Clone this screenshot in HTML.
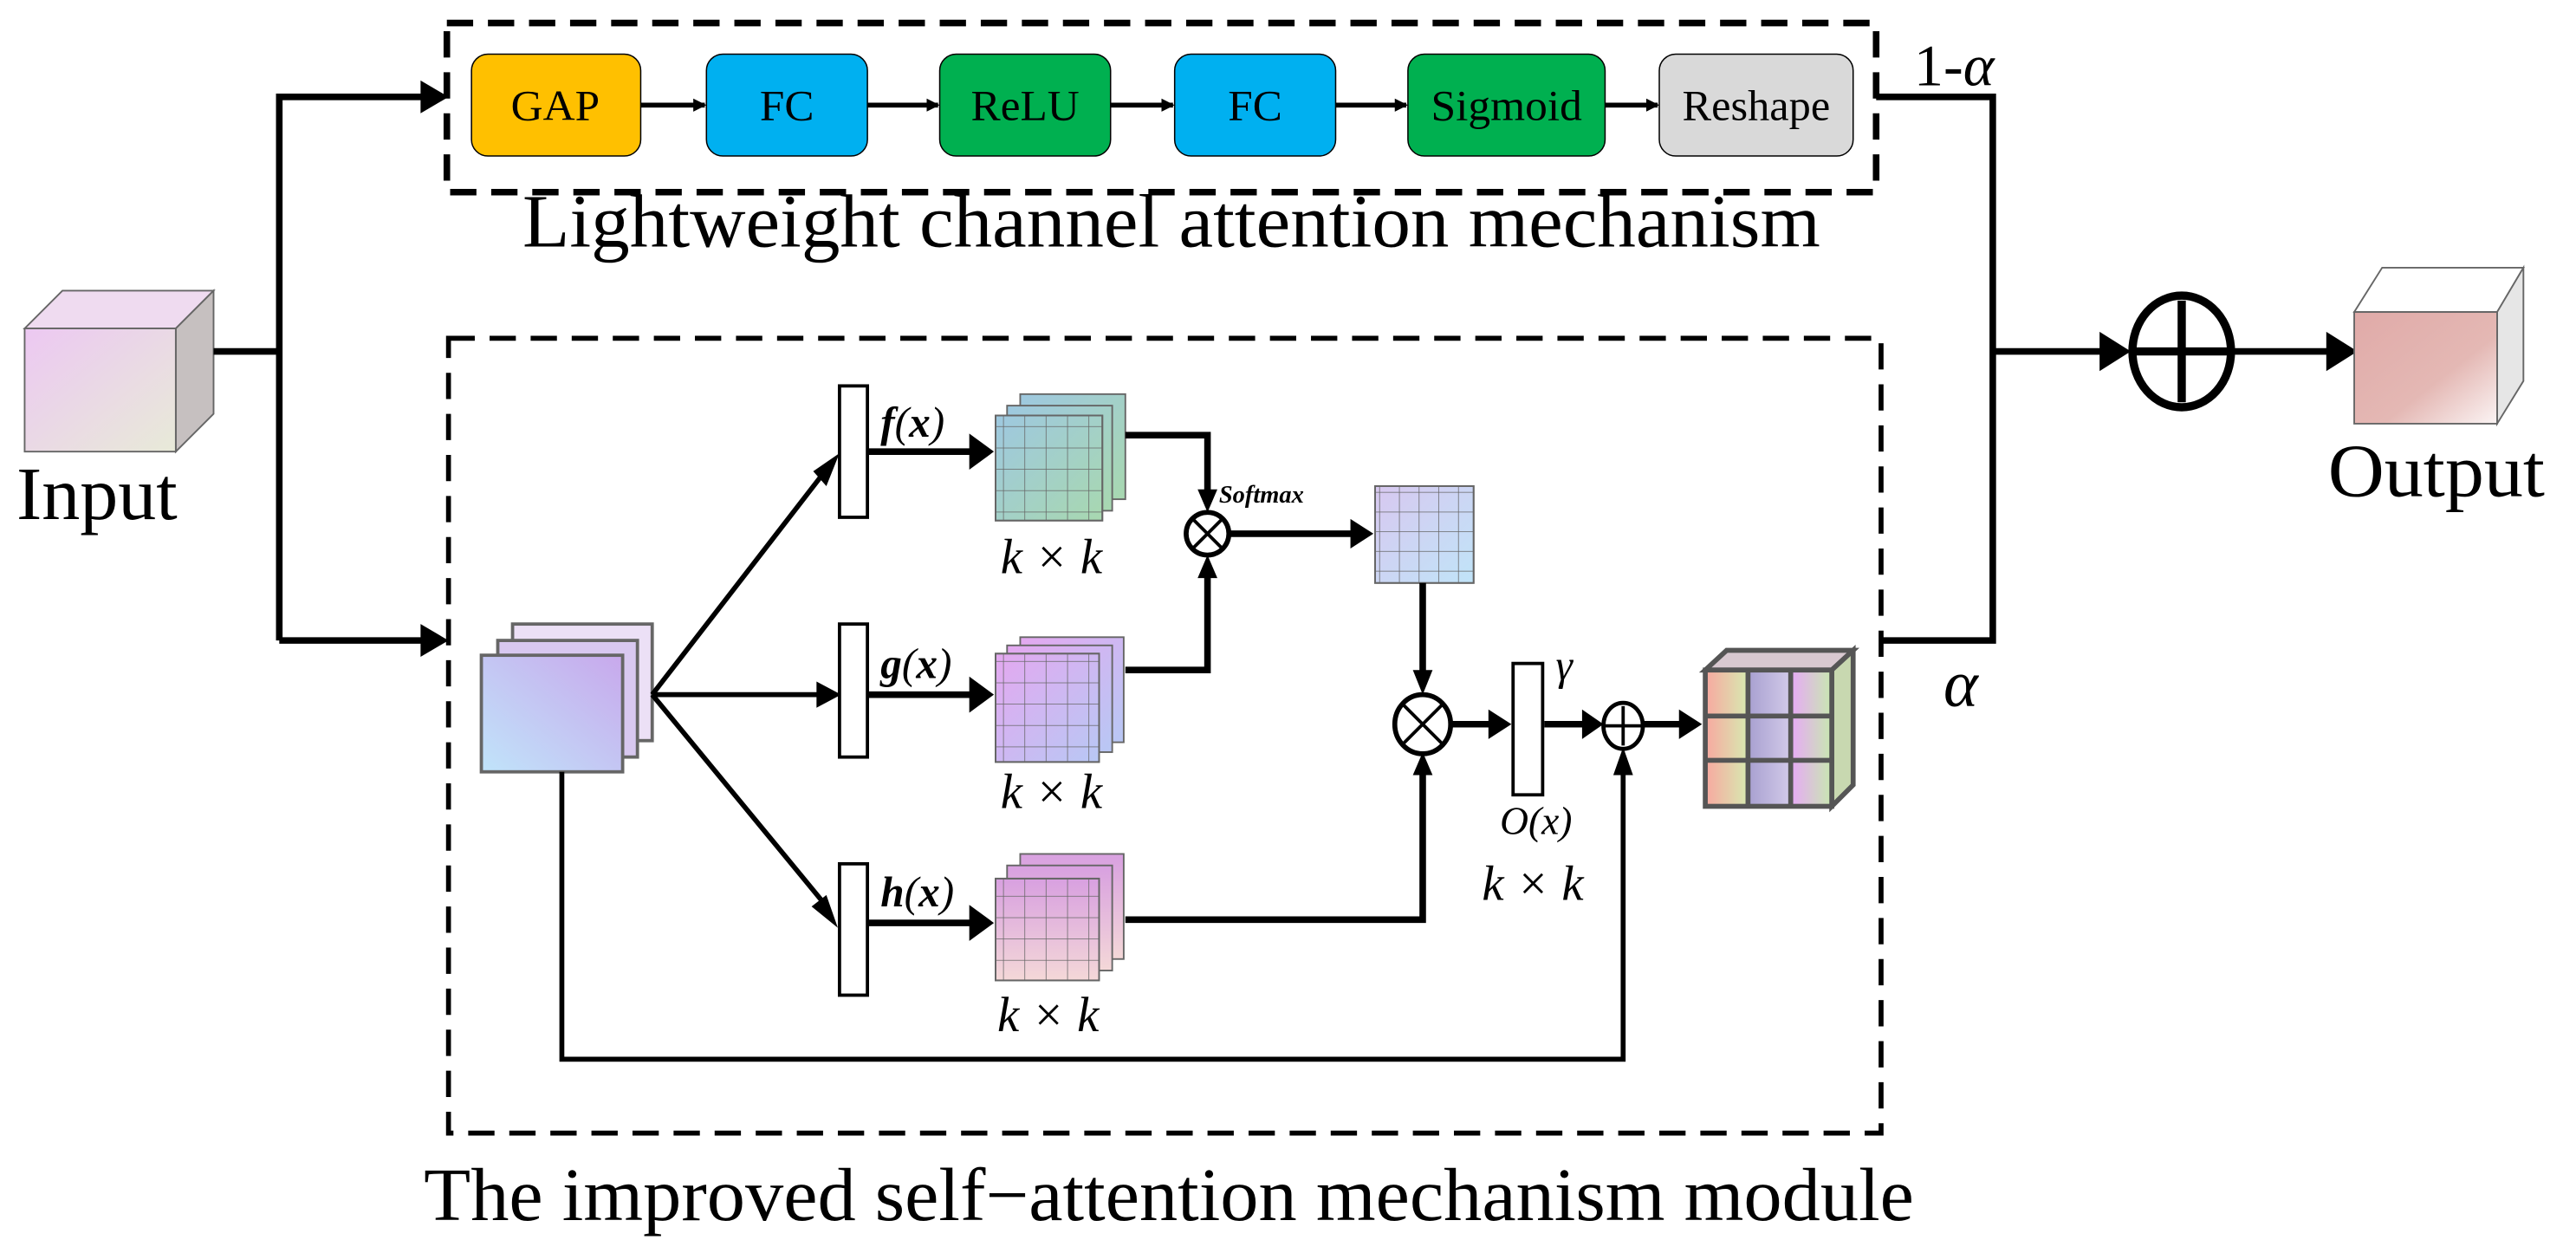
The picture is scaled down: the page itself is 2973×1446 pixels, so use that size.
<!DOCTYPE html>
<html><head><meta charset="utf-8"><style>html,body{margin:0;padding:0;background:#fff}svg{display:block}</style></head>
<body>
<svg width="2973" height="1446" viewBox="0 0 1568 763" preserveAspectRatio="none" xmlns="http://www.w3.org/2000/svg" font-family="Liberation Serif, serif">
<defs>
<marker id="ah" markerWidth="8" markerHeight="8" refX="7" refY="4" orient="auto" markerUnits="userSpaceOnUse"><path d="M0,0 L8,4 L0,8z" fill="#000"/></marker>
<linearGradient id="gin" x1="0" y1="0" x2="1" y2="1"><stop offset="0" stop-color="#ecc8f2"/><stop offset="1" stop-color="#e8ead8"/></linearGradient>
<linearGradient id="gout" x1="0" y1="0" x2="1" y2="1"><stop offset="0" stop-color="#e0aaa8"/><stop offset="0.6" stop-color="#e4b8b4"/><stop offset="1" stop-color="#fbf4f4"/></linearGradient>
<linearGradient id="gpl" x1="1" y1="0" x2="0" y2="1"><stop offset="0" stop-color="#c8a8ec"/><stop offset="1" stop-color="#c0e4fa"/></linearGradient>
<linearGradient id="gf" x1="0" y1="0" x2="1" y2="1"><stop offset="0" stop-color="#9ec8e0"/><stop offset="1" stop-color="#a8d8b0"/></linearGradient>
<linearGradient id="gg" x1="0" y1="0" x2="1" y2="1"><stop offset="0" stop-color="#e4a8f0"/><stop offset="1" stop-color="#b8c8f4"/></linearGradient>
<linearGradient id="gh" x1="0" y1="0" x2="0" y2="1"><stop offset="0" stop-color="#d8a0e0"/><stop offset="1" stop-color="#f4d8d8"/></linearGradient>
<linearGradient id="gs" x1="0" y1="0" x2="1" y2="1"><stop offset="0" stop-color="#d8c8f0"/><stop offset="1" stop-color="#c0e4f8"/></linearGradient>
<linearGradient id="gc" x1="0" y1="0" x2="1" y2="0"><stop offset="0" stop-color="#f8a8a0"/><stop offset="0.33" stop-color="#d8e8b0"/><stop offset="0.34" stop-color="#a8a0d0"/><stop offset="0.66" stop-color="#d0c8e8"/><stop offset="0.67" stop-color="#e8a8f8"/><stop offset="1" stop-color="#c8e8b0"/></linearGradient>
<pattern id="grid" x="0" y="0" width="13" height="13" patternUnits="userSpaceOnUse"><path d="M13,0 V13 M0,13 H13" stroke="#666" stroke-width="0.8" fill="none"/></pattern>
<pattern id="grid2" width="12" height="12" patternUnits="userSpaceOnUse"><path d="M12,0 V12 M0,12 H12" stroke="#666" stroke-width="0.8" fill="none"/></pattern>
</defs>

<rect x="272" y="14" width="870" height="103" fill="none" stroke="#000" stroke-width="4" stroke-dasharray="16,9"/>
<rect x="273" y="206" width="872" height="484" fill="none" stroke="#000" stroke-width="3" stroke-dasharray="16,9"/>

<g stroke="#000" stroke-width="0.8">
<rect x="287" y="33" width="103" height="62" rx="10" fill="#FFC000"/>
<rect x="430" y="33" width="98" height="62" rx="10" fill="#00B0F0"/>
<rect x="572" y="33" width="104" height="62" rx="10" fill="#00B050"/>
<rect x="715" y="33" width="98" height="62" rx="10" fill="#00B0F0"/>
<rect x="857" y="33" width="120" height="62" rx="10" fill="#00B050"/>
<rect x="1010" y="33" width="118" height="62" rx="10" fill="#D9D9D9"/>
</g>
<g font-size="26" text-anchor="middle" fill="#000">
<text x="338" y="73" textLength="54" lengthAdjust="spacingAndGlyphs">GAP</text>
<text x="479" y="73" textLength="33" lengthAdjust="spacingAndGlyphs">FC</text>
<text x="624" y="73" textLength="66" lengthAdjust="spacingAndGlyphs">ReLU</text>
<text x="764" y="73" textLength="33" lengthAdjust="spacingAndGlyphs">FC</text>
<text x="917" y="73" textLength="92" lengthAdjust="spacingAndGlyphs">Sigmoid</text>
<text x="1069" y="73" textLength="90" lengthAdjust="spacingAndGlyphs">Reshape</text>
</g>
<g stroke="#000" stroke-width="3" marker-end="url(#ah)">
<line x1="390" y1="64" x2="429" y2="64"/><line x1="528" y1="64" x2="571" y2="64"/><line x1="676" y1="64" x2="714" y2="64"/><line x1="813" y1="64" x2="856" y2="64"/><line x1="977" y1="64" x2="1009" y2="64"/>
</g>
<text x="318" y="150" font-size="46" textLength="790" lengthAdjust="spacingAndGlyphs">Lightweight channel attention mechanism</text>
<text x="258" y="743" font-size="46" textLength="907" lengthAdjust="spacingAndGlyphs">The improved self−attention mechanism module</text>

<polygon points="15,200 107,200 130,177 38,177" fill="#efdbf0" stroke="#666"/>
<polygon points="107,200 130,177 130,252 107,275" fill="#c6c0c0" stroke="#666"/>
<rect x="15" y="200" width="92" height="75" fill="url(#gin)" stroke="#666"/>
<text x="10" y="316" font-size="46" textLength="98" lengthAdjust="spacingAndGlyphs">Input</text>

<g stroke="#000" stroke-width="4" fill="none">
<polyline points="130,214 170,214"/>
<polyline points="170,390 170,59 258,59"/>
<polyline points="170,390 258,390"/>
</g>
<path d="M256,49 L273,59 L256,69z"/><path d="M256,380 L273,390 L256,400z"/>

<g stroke="#000" stroke-width="4" fill="none">
<polyline points="1142,59 1213,59 1213,390 1145,390"/>
<line x1="1213" y1="214" x2="1280" y2="214"/>
<line x1="1360" y1="214" x2="1418" y2="214"/>
</g>
<path d="M1278,202 L1297,214 L1278,226z"/><path d="M1416,202 L1435,214 L1416,226z"/>
<ellipse cx="1328" cy="214" rx="30" ry="34" fill="none" stroke="#000" stroke-width="5"/>
<line x1="1299" y1="214" x2="1357" y2="214" stroke="#000" stroke-width="5"/><line x1="1328" y1="183" x2="1328" y2="245" stroke="#000" stroke-width="5"/>
<text x="1165" y="52" font-size="36">1-<tspan font-style="italic">α</tspan></text>
<text x="1183" y="430" font-size="40" font-style="italic">α</text>
<polygon points="1433,190 1520,190 1536,163 1450,163" fill="#fff" stroke="#666"/>
<polygon points="1520,190 1536,163 1536,232 1520,258" fill="#e6e6e6" stroke="#666"/>
<rect x="1433" y="190" width="87" height="68" fill="url(#gout)" stroke="#666"/>
<text x="1417" y="302" font-size="46" textLength="132" lengthAdjust="spacingAndGlyphs">Output</text>

<rect x="312" y="380" width="85" height="71" fill="#ece0f6" stroke="#666" stroke-width="2"/>
<rect x="303" y="390" width="85" height="71" fill="#d8c8f0" stroke="#666" stroke-width="2"/>
<rect x="293" y="399" width="86" height="71" fill="url(#gpl)" stroke="#666" stroke-width="2"/>

<g stroke="#000" stroke-width="3" fill="none">
<line x1="397" y1="423" x2="506" y2="282"/>
<line x1="397" y1="423" x2="506" y2="423"/>
<line x1="397" y1="423" x2="504" y2="553"/>
</g>
<path d="M511,276 L503,296 L495,287z"/><path d="M497,415 L512,423 L497,431z"/><path d="M510,565 L494,552 L503,545z"/>
<g fill="#fff" stroke="#000" stroke-width="2">
<rect x="511" y="235" width="17" height="80"/>
<rect x="511" y="380" width="17" height="81"/>
<rect x="511" y="526" width="17" height="80"/>
</g>
<g stroke="#000" stroke-width="4"><line x1="528" y1="275" x2="592" y2="275"/><line x1="528" y1="423" x2="592" y2="423"/><line x1="528" y1="562" x2="592" y2="562"/></g>
<path d="M590,264 L605,275 L590,286z"/><path d="M590,412 L605,423 L590,434z"/><path d="M590,551 L605,562 L590,573z"/>
<g font-size="26" font-style="italic" font-weight="bold"><text x="536" y="266">f<tspan font-weight="normal">(</tspan>x<tspan font-weight="normal">)</tspan></text><text x="536" y="413">g<tspan font-weight="normal">(</tspan>x<tspan font-weight="normal">)</tspan></text><text x="536" y="552">h<tspan font-weight="normal">(</tspan>x<tspan font-weight="normal">)</tspan></text></g>

<g stroke="#666" stroke-width="1">
<rect x="621" y="240" width="64" height="64" fill="url(#gf)"/><rect x="613" y="247" width="64" height="64" fill="url(#gf)"/>
<rect x="606" y="253" width="65" height="64" fill="url(#gf)"/><rect x="606" y="253" width="65" height="64" fill="url(#grid)"/>
<rect x="621" y="388" width="63" height="64" fill="url(#gg)"/><rect x="613" y="393" width="64" height="65" fill="url(#gg)"/>
<rect x="606" y="398" width="63" height="66" fill="url(#gg)"/><rect x="606" y="398" width="63" height="66" fill="url(#grid)"/>
<rect x="621" y="520" width="63" height="64" fill="url(#gh)"/><rect x="613" y="527" width="64" height="64" fill="url(#gh)"/>
<rect x="606" y="535" width="63" height="62" fill="url(#gh)"/><rect x="606" y="535" width="63" height="62" fill="url(#grid)"/>
<rect x="837" y="296" width="60" height="59" fill="url(#gs)"/><rect x="837" y="296" width="60" height="59" fill="url(#grid2)"/>
</g>
<g font-size="30" font-style="italic" text-anchor="middle"><text x="640" y="349">k × k</text><text x="640" y="492">k × k</text><text x="638" y="628">k × k</text><text x="933" y="548">k × k</text></g>
<text x="935" y="508" font-size="24" font-style="italic" text-anchor="middle">O(x)</text>
<text x="742" y="306" font-size="15" font-style="italic" font-weight="bold">Softmax</text>
<text x="947" y="414" font-size="26" font-style="italic">γ</text>

<g stroke="#000" stroke-width="4" fill="none">
<polyline points="685,265 735,265 735,300"/>
<polyline points="685,408 735,408 735,350"/>
<line x1="748" y1="325" x2="824" y2="325"/>
<line x1="866" y1="355" x2="866" y2="410"/>
<polyline points="685,560 866,560 866,470"/>
<line x1="884" y1="441" x2="908" y2="441"/>
<line x1="940" y1="441" x2="965" y2="441"/>
<line x1="1000" y1="441" x2="1024" y2="441"/>
<polyline points="342,470 342,645 988,645 988,470" stroke-width="3"/>
</g>
<path d="M729,298 L735,312 L741,298z"/><path d="M729,352 L735,338 L741,352z"/>
<path d="M822,316 L836,325 L822,334z"/>
<path d="M860,408 L866,423 L872,408z"/><path d="M860,472 L866,458 L872,472z"/>
<path d="M906,432 L920,441 L906,450z"/><path d="M963,432 L976,441 L963,450z"/><path d="M1022,432 L1036,441 L1022,450z"/>
<path d="M982,472 L988,455 L994,472z"/>
<circle cx="735" cy="325" r="13" fill="#fff" stroke="#000" stroke-width="3"/>
<path d="M726,316 L744,334 M744,316 L726,334" stroke="#000" stroke-width="2"/>
<ellipse cx="866" cy="441" rx="17" ry="18" fill="#fff" stroke="#000" stroke-width="3"/>
<path d="M854,429 L878,453 M878,429 L854,453" stroke="#000" stroke-width="2"/>
<rect x="921" y="404" width="18" height="80" fill="#fff" stroke="#000" stroke-width="2"/>
<ellipse cx="988" cy="442" rx="12" ry="14" fill="#fff" stroke="#000" stroke-width="2.5"/>
<path d="M977,442 H999 M988,430 V454" stroke="#000" stroke-width="2"/>

<polygon points="1038,408 1115,408 1128,396 1051,396" fill="#d8c8d0" stroke="#555" stroke-width="3"/>
<polygon points="1115,408 1128,396 1128,478 1115,491" fill="#c8d8b0" stroke="#555" stroke-width="3"/>
<rect x="1038" y="408" width="77" height="83" fill="url(#gc)" stroke="#555" stroke-width="3"/>
<g stroke="#555" stroke-width="3"><line x1="1064" y1="408" x2="1064" y2="491"/><line x1="1090" y1="408" x2="1090" y2="491"/><line x1="1038" y1="436" x2="1115" y2="436"/><line x1="1038" y1="463" x2="1115" y2="463"/></g>
</svg>
</body></html>
